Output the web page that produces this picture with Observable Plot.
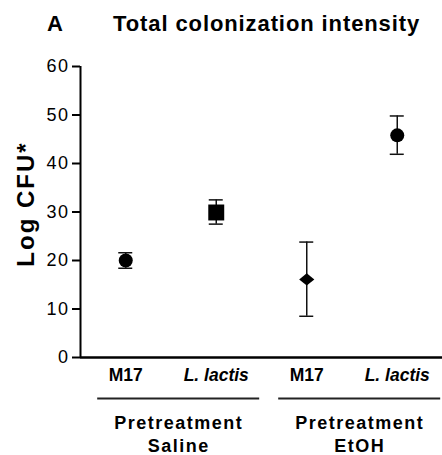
<!DOCTYPE html>
<html>
<head>
<meta charset="utf-8">
<script src="https://cdn.jsdelivr.net/npm/d3@7"></script>
<script src="https://cdn.jsdelivr.net/npm/@observablehq/plot@0.6"></script>
<style>
  html, body { margin: 0; padding: 0; background: #fff; }
  body { width: 442px; height: 455px; overflow: hidden; font-family: "Liberation Sans", Arial, sans-serif; }
  #head { position: relative; height: 45px; }
  #head span { position: absolute; top: 13px; font-size: 22px; line-height: 22px; font-weight: bold; color: #000; white-space: nowrap; }
  #panel { left: 47px; }
  #title { left: 113px; letter-spacing: 0.9px; }
</style>
</head>
<body>
<div id="head"><span id="panel">A</span><span id="title">Total colonization intensity</span></div>
<div id="chart"></div>
<script>
// ---- data ----
const categories = ["M17", "L. lactis", "M17", "L. lactis"];
const categoryItalic = [false, true, false, true];
const means = [20.0, 29.9, 16.1, 45.8];
const errLow = [18.4, 27.5, 8.5, 41.9];
const errHigh = [21.6, 32.5, 23.8, 49.8];
const markerShapes = ["circle", "square", "diamond", "circle"];
const groupLabels = ["Pretreatment\nSaline", "Pretreatment\nEtOH"];
const groupMembers = [[0, 1], [2, 3]];
const yTicks = [0, 10, 20, 30, 40, 50, 60];
const yLabel = "Log CFU*";

// ---- tables built from arrays ----
const points = categories.map((c, i) => ({
  i, category: c, italic: categoryItalic[i], mean: means[i], lo: errLow[i], hi: errHigh[i], shape: markerShapes[i]
}));
const groups = groupLabels.map((label, g) => {
  const first = d3.min(groupMembers[g]);
  const last = d3.max(groupMembers[g]);
  const x1 = first - 0.31, x2 = last + 0.48;
  return {label, x1, x2, mid: (x1 + x2) / 2};
});

const wideDiamond = {
  draw(ctx, size) {
    const a = Math.sqrt(size / 2);
    ctx.moveTo(0, -a * 0.9);
    ctx.lineTo(a * 1.1, 0);
    ctx.lineTo(0, a * 0.9);
    ctx.lineTo(-a * 1.1, 0);
    ctx.closePath();
  }
};

const font = "'Liberation Sans', Arial, sans-serif";

const chart = Plot.plot({
  width: 442,
  height: 410,
  marginTop: 21,
  marginBottom: 98,
  marginLeft: 80,
  marginRight: 0,
  style: {fontFamily: font, color: "#000", background: "#fff", overflow: "visible"},
  x: {domain: [-0.5, 3.5], axis: null},
  y: {domain: [0, 60], axis: null},
  marks: [
    Plot.axisY({ticks: yTicks, tickSize: 8, tickPadding: 3, strokeWidth: 2, fontSize: 18, label: null, stroke: "#000", fill: "#000"}),
    Plot.ruleX([-0.5], {stroke: "#000", strokeWidth: 2}),
    Plot.ruleY([0], {stroke: "#000", strokeWidth: 2.5}),
    // error bars
    Plot.ruleX(points, {x: "i", y1: "lo", y2: "hi", stroke: "#111", strokeWidth: 1.5}),
    Plot.ruleY(points, {y: "lo", x1: "i", x2: "i", insetLeft: -7, insetRight: -7, stroke: "#111", strokeWidth: 1.5}),
    Plot.ruleY(points, {y: "hi", x1: "i", x2: "i", insetLeft: -7, insetRight: -7, stroke: "#111", strokeWidth: 1.5}),
    // markers
    Plot.dot(points.filter(d => d.shape === "circle"), {x: "i", y: "mean", r: 7, symbol: "circle", fill: "#000", stroke: "none"}),
    Plot.dot(points.filter(d => d.shape === "square"), {x: "i", y: "mean", r: 9, symbol: "square", fill: "#000", stroke: "none"}),
    Plot.dot(points.filter(d => d.shape === "diamond"), {x: "i", y: "mean", r: 5.5, symbol: wideDiamond, fill: "#000", stroke: "none"}),
    // category labels
    Plot.text(points.filter(d => !d.italic), {x: "i", text: "category", frameAnchor: "bottom", dy: 18, lineAnchor: "middle", fontSize: 17.5, fontWeight: "bold", fill: "#000"}),
    Plot.text(points.filter(d => d.italic), {x: "i", text: "category", frameAnchor: "bottom", dy: 18, lineAnchor: "middle", fontSize: 17.5, fontWeight: "bold", fontStyle: "italic", fill: "#000"}),
    // group brackets
    Plot.ruleY(groups, {y: 0, x1: "x1", x2: "x2", dy: 41, stroke: "#222", strokeWidth: 2}),
    Plot.text(groups, {x: "mid", text: "label", frameAnchor: "bottom", dy: 55, lineAnchor: "top", lineHeight: 1.28, fontSize: 18, fontWeight: "bold", fill: "#000"}),
    // y label
    Plot.text([yLabel], {text: d => d, frameAnchor: "left", textAnchor: "middle", lineAnchor: "bottom", dx: -47, dy: -8, rotate: -90, fontSize: 24, fontWeight: "bold", fill: "#000"})
  ]
});
document.getElementById("chart").appendChild(chart);
// letter spacing, as in the reference rendering
chart.querySelectorAll("text").forEach(t => {
  const s = t.textContent;
  if (/Pretreatment/.test(s)) t.style.letterSpacing = "1.5px";
  else if (s === yLabel) t.style.letterSpacing = "2px";
});
chart.querySelectorAll("g[aria-label='y-axis tick label'] text").forEach(t => { t.style.letterSpacing = "1.5px"; });
</script>
</body>
</html>
